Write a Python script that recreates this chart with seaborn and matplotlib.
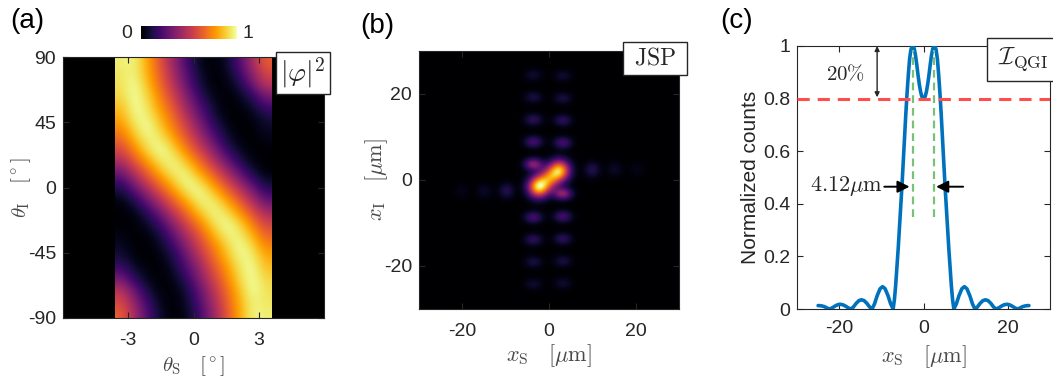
import numpy as np
import matplotlib
matplotlib.use("Agg")
import matplotlib.pyplot as plt
import seaborn as sns
from matplotlib.patches import Rectangle

# ---------------- panel (a): |phi|^2 map, cells ----------------
theta_s_cells = [-3.3, -2.7, -2.1, -1.5, -0.9, -0.3, 0.3, 0.9, 1.5, 2.1, 2.7, 3.3]
theta_i_cells = [86.25, 78.75, 71.25, 63.75, 56.25, 48.75, 41.25, 33.75, 26.25, 18.75,
                 11.25, 3.75, -3.75, -11.25, -18.75, -26.25, -33.75, -41.25, -48.75,
                 -56.25, -63.75, -71.25, -78.75, -86.25]
phi_r01 = [0.95, 0.97, 0.80, 0.60, 0.40, 0.20, 0.05, 0.00, 0.07, 0.23, 0.44, 0.64]
phi_r02 = [0.93, 0.97, 0.82, 0.63, 0.44, 0.24, 0.08, 0.00, 0.04, 0.18, 0.38, 0.57]
phi_r03 = [0.92, 1.00, 0.85, 0.66, 0.48, 0.28, 0.10, 0.01, 0.02, 0.11, 0.30, 0.50]
phi_r04 = [0.90, 1.00, 0.90, 0.71, 0.54, 0.35, 0.16, 0.04, 0.00, 0.05, 0.16, 0.34]
phi_r05 = [0.85, 1.00, 0.93, 0.76, 0.60, 0.40, 0.23, 0.08, 0.00, 0.02, 0.08, 0.21]
phi_r06 = [0.81, 0.97, 0.97, 0.82, 0.66, 0.48, 0.29, 0.12, 0.02, 0.00, 0.03, 0.11]
phi_r07 = [0.74, 0.92, 1.00, 0.88, 0.71, 0.55, 0.37, 0.18, 0.06, 0.00, 0.01, 0.07]
phi_r08 = [0.66, 0.84, 0.97, 0.95, 0.80, 0.62, 0.45, 0.27, 0.10, 0.02, 0.00, 0.04]
phi_r09 = [0.57, 0.74, 0.92, 1.00, 0.90, 0.71, 0.55, 0.37, 0.18, 0.06, 0.01, 0.01]
phi_r10 = [0.46, 0.63, 0.80, 0.95, 0.97, 0.84, 0.66, 0.49, 0.30, 0.13, 0.03, 0.00]
phi_r11 = [0.32, 0.50, 0.67, 0.85, 0.97, 0.95, 0.78, 0.62, 0.44, 0.26, 0.10, 0.01]
phi_r12 = [0.18, 0.37, 0.55, 0.71, 0.88, 1.00, 0.92, 0.75, 0.58, 0.40, 0.22, 0.08]
phi_r13 = [0.08, 0.22, 0.40, 0.58, 0.75, 0.92, 1.00, 0.88, 0.71, 0.55, 0.37, 0.18]
phi_r14 = [0.01, 0.10, 0.26, 0.44, 0.62, 0.78, 0.95, 0.97, 0.85, 0.67, 0.50, 0.32]
phi_r15 = [0.00, 0.03, 0.13, 0.30, 0.49, 0.66, 0.84, 0.97, 0.95, 0.80, 0.63, 0.46]
phi_r16 = [0.01, 0.01, 0.06, 0.18, 0.37, 0.55, 0.71, 0.90, 1.00, 0.92, 0.74, 0.57]
phi_r17 = [0.04, 0.00, 0.02, 0.10, 0.27, 0.45, 0.62, 0.80, 0.95, 0.97, 0.84, 0.66]
phi_r18 = [0.07, 0.01, 0.00, 0.06, 0.18, 0.37, 0.55, 0.71, 0.88, 1.00, 0.92, 0.74]
phi_r19 = [0.11, 0.03, 0.00, 0.02, 0.12, 0.29, 0.48, 0.66, 0.82, 0.97, 0.97, 0.81]
phi_r20 = [0.21, 0.08, 0.02, 0.00, 0.08, 0.23, 0.40, 0.60, 0.76, 0.93, 1.00, 0.85]
phi_r21 = [0.34, 0.16, 0.05, 0.00, 0.04, 0.16, 0.35, 0.54, 0.71, 0.90, 1.00, 0.90]
phi_r22 = [0.50, 0.30, 0.11, 0.02, 0.01, 0.10, 0.28, 0.48, 0.66, 0.85, 1.00, 0.92]
phi_r23 = [0.57, 0.38, 0.18, 0.04, 0.00, 0.08, 0.24, 0.44, 0.63, 0.82, 0.97, 0.93]
phi_r24 = [0.64, 0.44, 0.23, 0.07, 0.00, 0.05, 0.20, 0.40, 0.60, 0.80, 0.97, 0.95]
a_xticks = [-3, 0, 3]
a_yticks = [-90, -45, 0, 45, 90]

# ---------------- panel (b): JSP lobes ----------------
core_x = [-2.4, 0.0, 2.4]
core_y = [-1.6, 0.3, 2.2]
core_amp = [1.0, 0.58, 0.92]
col_x = [-3.6, -3.6, -3.6, -3.6, -3.6, -3.6, -3.6, -3.6, -3.6,
         3.2, 3.2, 3.2, 3.2, 3.2, 3.2, 3.2, 3.2, 3.2]
col_y = [3.7, 8.9, 14.1, 19.3, 24.5, -8.7, -13.9, -19.1, -24.3,
         -3.2, -8.5, -13.7, -18.9, -24.1, 8.7, 13.9, 19.1, 24.3]
col_amp = [0.40, 0.23, 0.17, 0.12, 0.09, 0.23, 0.17, 0.12, 0.09,
           0.42, 0.23, 0.17, 0.12, 0.09, 0.23, 0.17, 0.12, 0.09]
side_x = [-9.8, -15.0, -20.3, 10.0, 15.2, 20.4]
side_y = [-2.5, -2.6, -2.6, 2.4, 2.5, 2.5]
side_amp = [0.15, 0.075, 0.045, 0.15, 0.075, 0.045]
b_ticks = [-20, 0, 20]

# ---------------- panel (c): normalized counts ----------------
xs_um = [-25.0, -24.8, -24.2, -23.5, -22.9, -22.3,
         -21.7, -21.0, -20.4, -19.8, -19.1, -18.5, -17.8, -17.2,
         -16.6, -16.0, -15.3, -14.7, -14.1, -13.4, -12.8, -12.2,
         -11.6, -11.0, -10.3, -9.7, -9.1, -8.4, -7.8, -7.2,
         -6.9, -6.6, -6.3, -6.0, -5.7, -5.4, -5.1, -4.8, -4.5, -4.2, -3.9,
         -3.6, -3.3, -3.0, -2.7, -2.5, -2.2, -1.9, -1.6, -1.3, -1.0, -0.7, -0.4,
         0.0,
         0.4, 0.7, 1.0, 1.3, 1.6, 1.9, 2.2, 2.5, 2.7, 3.0, 3.3, 3.6,
         3.9, 4.2, 4.5, 4.8, 5.1, 5.4, 5.7, 6.0, 6.3, 6.6, 6.9,
         7.2, 7.8, 8.4, 9.1, 9.7, 10.3, 11.0, 11.6,
         12.2, 12.8, 13.4, 14.1, 14.7, 15.3, 16.0, 16.6,
         17.2, 17.8, 18.5, 19.1, 19.8, 20.4, 21.0, 21.7,
         22.3, 22.9, 23.5, 24.2, 24.8, 25.0]
counts = [0.013, 0.013, 0.012, 0.009, 0.004, 0.0,
          0.004, 0.011, 0.016, 0.018, 0.016, 0.011, 0.004, 0.0,
          0.008, 0.021, 0.032, 0.035, 0.032, 0.021, 0.008, 0.0,
          0.02, 0.05, 0.077, 0.085, 0.077, 0.05, 0.02, 0.0,
          0.035, 0.09, 0.16, 0.23, 0.31, 0.39, 0.47, 0.56, 0.65, 0.74, 0.82,
          0.89, 0.95, 0.985, 0.998, 1.0, 0.99, 0.965, 0.93, 0.89, 0.855, 0.827, 0.808,
          0.80,
          0.808, 0.827, 0.855, 0.89, 0.93, 0.965, 0.99, 1.0, 0.998, 0.985, 0.95, 0.89,
          0.82, 0.74, 0.65, 0.56, 0.47, 0.39, 0.31, 0.23, 0.16, 0.09, 0.035,
          0.0, 0.02, 0.05, 0.077, 0.085, 0.077, 0.05, 0.02,
          0.0, 0.008, 0.021, 0.032, 0.035, 0.032, 0.021, 0.008,
          0.0, 0.004, 0.011, 0.016, 0.018, 0.016, 0.011, 0.004,
          0.0, 0.004, 0.009, 0.012, 0.013, 0.013]
c_xticks = [-20, 0, 20]
c_yticks = [0, 0.2, 0.4, 0.6, 0.8, 1]
c_yticklabels = ["0", "0.2", "0.4", "0.6", "0.8", "1"]
threshold = 0.8
peak_pos = [-2.45, 2.45]

# ---------------- style ----------------
sns.set_theme(style="ticks")
plt.rcParams["font.family"] = ["Liberation Sans", "DejaVu Sans"]
plt.rcParams["mathtext.fontset"] = "cm"
plt.rcParams["axes.unicode_minus"] = False
TXT = "#262626"
LAB = "#4a4a4a"

W, H = 1053, 378
fig = plt.figure(figsize=(W / 100, H / 100), dpi=100)


def rect(l, t, r, b):
    return [l / W, 1 - b / H, (r - l) / W, (b - t) / H]


axA = fig.add_axes(rect(63, 57, 324, 318))
axB = fig.add_axes(rect(419, 51, 679, 309))
axC = fig.add_axes(rect(797, 46, 1050, 309))
cax = fig.add_axes(rect(141, 26, 237, 39))

for ax in (axA, axB, axC):
    ax.tick_params(direction="in", length=4, width=0.8, colors=TXT, labelsize=14,
                   top=True, right=True, pad=5)
    for s in ax.spines.values():
        s.set_color(TXT)
        s.set_linewidth(0.8)

# ---- (a)
axA.set_facecolor("black")
phi = np.array([phi_r01, phi_r02, phi_r03, phi_r04, phi_r05, phi_r06,
                phi_r07, phi_r08, phi_r09, phi_r10, phi_r11, phi_r12,
                phi_r13, phi_r14, phi_r15, phi_r16, phi_r17, phi_r18,
                phi_r19, phi_r20, phi_r21, phi_r22, phi_r23, phi_r24])
ds = (theta_s_cells[1] - theta_s_cells[0]) / 2
di = (theta_i_cells[0] - theta_i_cells[1]) / 2
imA = axA.imshow(phi, extent=[theta_s_cells[0] - ds, theta_s_cells[-1] + ds,
                              theta_i_cells[-1] - di, theta_i_cells[0] + di],
                 origin="upper", aspect="auto", cmap="inferno", vmin=0, vmax=1,
                 interpolation="bicubic")
axA.set_xlim(-6, 6)
axA.set_ylim(-90, 90)
axA.set_xticks(a_xticks)
axA.set_yticks(a_yticks)
axA.tick_params(axis="x", pad=10)
axA.set_xlabel(r"$\theta_{\rm S}\quad[^\circ]$", fontsize=15, color=LAB)
axA.set_ylabel(r"$\theta_{\rm I}\quad[^\circ]$", fontsize=15, color=LAB)
axA.xaxis.set_label_coords(0.5, -0.138)
axA.yaxis.set_label_coords(-0.115, 0.5)

cb = fig.colorbar(imA, cax=cax, orientation="horizontal")
cb.outline.set_visible(False)
cax.set_xticks([])
cax.tick_params(length=0)
fig.text(127 / W, 1 - 33 / H, "0", ha="center", va="center", fontsize=14, color=TXT)
fig.text(248 / W, 1 - 33 / H, "1", ha="center", va="center", fontsize=14, color=TXT)

# ---- (b)
grid = np.linspace(-30, 30, 361)
GX, GY = np.meshgrid(grid, grid)
jsp = np.zeros_like(GX)
for x0, y0, a in zip(core_x, core_y, core_amp):
    jsp += a * np.exp(-((GX - x0) ** 2 + (GY - y0) ** 2) / (2 * 1.7 ** 2))
for x0, y0, a in zip(col_x, col_y, col_amp):
    jsp += a * np.exp(-((GX - x0) ** 2) / (2 * 1.5 ** 2) - ((GY - y0) ** 2) / (2 * 1.0 ** 2))
for x0, y0, a in zip(side_x, side_y, side_amp):
    jsp += a * np.exp(-((GX - x0) ** 2 + (GY - y0) ** 2) / (2 * 1.3 ** 2))
axB.imshow(jsp, extent=[-30, 30, -30, 30], origin="lower", aspect="auto",
           cmap="inferno", vmin=0, vmax=jsp.max(), interpolation="bilinear")
axB.set_xlim(-30, 30)
axB.set_ylim(-30, 30)
axB.set_xticks(b_ticks)
axB.set_yticks(b_ticks)
axB.tick_params(axis="x", pad=10)
axB.set_xlabel(r"$x_{\rm S}\quad[\mu{\rm m}]$", fontsize=16, color=LAB)
axB.set_ylabel(r"$x_{\rm I}\quad[\mu{\rm m}]$", fontsize=16, color=LAB)
axB.xaxis.set_label_coords(0.5, -0.128)
axB.yaxis.set_label_coords(-0.112, 0.5)

# ---- (c)
sns.lineplot(x=xs_um, y=counts, ax=axC, color="#0072BD", linewidth=2.6,
             sort=False, estimator=None, zorder=3)
axC.axhline(threshold, color="#FF4D4D", linewidth=2.2, linestyle=(0, (4, 2.6)), zorder=4)
for p in peak_pos:
    axC.plot([p, p], [0.35, 0.985], color="#77C277", linewidth=1.6,
             linestyle=(0, (3.5, 2.2)), zorder=5)
axC.set_xlim(-30, 30)
axC.set_ylim(0, 1)
axC.set_xticks(c_xticks)
axC.set_yticks(c_yticks)
axC.set_yticklabels(c_yticklabels)
axC.tick_params(axis="x", pad=8)
axC.set_xlabel(r"$x_{\rm S}\quad[\mu{\rm m}]$", fontsize=16, color=LAB)
axC.set_ylabel("Normalized counts", fontsize=15, color=TXT)
axC.xaxis.set_label_coords(0.5, -0.129)
axC.yaxis.set_label_coords(-0.145, 0.5)

axC.annotate("", xy=(-11, 0.805), xytext=(-11, 1.0),
             arrowprops=dict(arrowstyle="<|-|>", color="#262626", lw=1.0,
                             shrinkA=0, shrinkB=0, mutation_scale=7))
axC.text(-18.4, 0.895, r"$20\%$", ha="center", va="center", fontsize=15)
axC.annotate("", xy=(-3.3, 0.465), xytext=(-9.3, 0.465),
             arrowprops=dict(arrowstyle="-|>", color="black", lw=1.4,
                             shrinkA=0, shrinkB=0, mutation_scale=18))
axC.annotate("", xy=(3.0, 0.465), xytext=(9.4, 0.465),
             arrowprops=dict(arrowstyle="-|>", color="black", lw=1.4,
                             shrinkA=0, shrinkB=0, mutation_scale=18))
axC.text(-9.6, 0.468, r"$4.12\mu{\rm m}$", ha="right", va="center", fontsize=16)


# ---- label boxes and panel letters
def label_box(l, t, r, b, txt, fs):
    fig.patches.append(Rectangle((l / W, 1 - b / H), (r - l) / W, (b - t) / H,
                                 transform=fig.transFigure, fc="white", ec=TXT,
                                 lw=1.0, zorder=10))
    fig.text((l + r) / 2 / W, 1 - (t + b) / 2 / H, txt, ha="center", va="center",
             fontsize=fs, zorder=11)


label_box(276, 52, 330, 94, r"$|\varphi|^2$", 20)
label_box(623, 42, 687, 75, r"${\rm JSP}$", 17)
label_box(987, 38, 1060, 81, r"$\mathcal{I}_{\rm QGI}$", 18)

fig.text(10 / W, 1 - 8 / H, "(a)", ha="left", va="top", fontsize=20, color="black")
fig.text(360 / W, 1 - 13 / H, "(b)", ha="left", va="top", fontsize=20, color="black")
fig.text(720 / W, 1 - 8 / H, "(c)", ha="left", va="top", fontsize=20, color="black")

fig.savefig("out.png", dpi=100)
